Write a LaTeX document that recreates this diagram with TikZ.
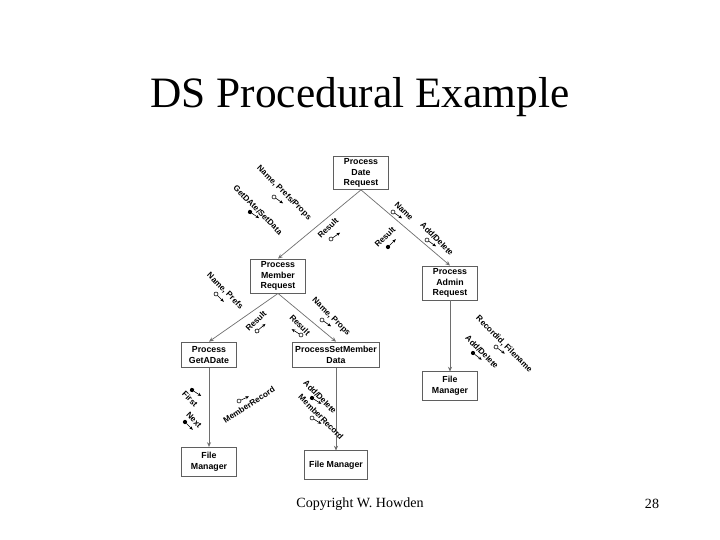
\documentclass[tikz,border=0pt]{standalone}
\usepackage{fontspec}
\setmainfont{Liberation Serif}
\setsansfont{Liberation Sans}
\usepackage{xcolor}
\usepackage{tikz}
\usetikzlibrary{arrows.meta, positioning}
\definecolor{boxgray}{RGB}{95,95,95}
\definecolor{linegray}{RGB}{110,110,110}
\tikzset{
  module/.style={rectangle, draw=boxgray, fill=white, line width=0.8pt,
    align=center, inner sep=0pt, minimum width=47pt, minimum height=29pt,
    font=\sffamily\bfseries\fontsize{7.5}{9}\selectfont},
  call/.style={-{Stealth[length=4pt, width=3.5pt]}, color=linegray, line width=0.6pt},
  cpllabel/.style={font=\sffamily\bfseries\fontsize{7}{8}\selectfont, inner sep=0pt},
  cplarrow/.style={-{Stealth[length=3pt, width=2.6pt]}, line width=0.5pt, color=black},
  datacpl/.pic={
    \draw[cplarrow] (1.7pt,0) -- (11,0);
    \draw[line width=0.5pt, fill=white] (0,0) circle[radius=1.7pt];
  },
  ctrlcpl/.pic={
    \draw[cplarrow] (1.7pt,0) -- (11,0);
    \fill (0,0) circle[radius=1.8pt];
  }
}

\begin{document}
\begin{tikzpicture}[x=0.03cm, y=-0.03cm]
  \useasboundingbox (0,0) rectangle (720,540);

  % Title and footer
  \node[font=\fontsize{37}{40}\selectfont] (title) at (360,97) {DS Procedural Example};
  \node[font=\fontsize{12}{14}\selectfont] (copy) at (360,504) {Copyright W. Howden};
  \node[font=\fontsize{12}{14}\selectfont] (page) at (652,504) {28};

  % Modules
  \node[module, minimum height=28pt] (date) at (361,173) {Process\\Date\\Request};
  \node[module] (member) at (278,276) {Process\\Member\\Request};
  \node[module] (admin) at (450,283) {Process\\Admin\\Request};
  \node[module, minimum height=22pt] (getdate) at (209,355) {Process\\GetADate};
  \node[module, minimum width=75pt, minimum height=22pt] (setmember) at (336,355) {ProcessSetMember\\Data};
  \node[module, minimum height=25pt] (fmleft) at (209,462) {File\\Manager};
  \node[module, minimum width=53pt, minimum height=24pt] (fmmid) at (336,465) {File Manager};
  \node[module, minimum height=24pt] (fmright) at (450,386) {File\\Manager};

  % Calls
  \draw[call] (date.south) -- (member.north);
  \draw[call] (date.south) -- (admin.north);
  \draw[call] (member.south) -- (getdate.north);
  \draw[call] (member.south) -- (setmember.north);
  \draw[call] (getdate.south) -- (fmleft.north);
  \draw[call] (setmember.south) -- (fmmid.north);
  \draw[call] (admin.south) -- (fmright.north);

  % Couples: Date -> Member
  \node[cpllabel, rotate=-45] (lnpp) at (284,193) {Name, Prefs/Props};
  \pic[rotate=-35] at (274,197) {datacpl};
  \node[cpllabel, rotate=-45] (lgsd) at (258,210) {GetDAte/SetData};
  \pic[rotate=-34] at (250,212) {ctrlcpl};
  \node[cpllabel, rotate=45] (lres1) at (328,228) {Result};
  \pic[rotate=35] at (331,239) {datacpl};

  % Couples: Date -> Admin
  \node[cpllabel, rotate=-45] (lname) at (404,211) {Name};
  \pic[rotate=-35] at (393,212) {datacpl};
  \node[cpllabel, rotate=-45] (ladd1) at (437,239) {Add/Delete};
  \pic[rotate=-35] at (427,240) {datacpl};
  \node[cpllabel, rotate=45] (lres2) at (385,237) {Result};
  \pic[rotate=45] at (388,247) {ctrlcpl};

  % Couples: Member -> GetADate
  \node[cpllabel, rotate=-45] (lnp) at (225,291) {Name, Prefs};
  \pic[rotate=-45] at (216,294) {datacpl};
  \node[cpllabel, rotate=45] (lres3) at (256,321) {Result};
  \pic[rotate=40] at (257,331) {datacpl};

  % Couples: Member -> SetMember
  \node[cpllabel, rotate=-45] (lres4) at (300,325) {Result};
  \pic[rotate=148] at (301,335) {datacpl};
  \node[cpllabel, rotate=-45] (lnprops) at (331,317) {Name, Props};
  \pic[rotate=-35] at (322,320) {datacpl};

  % Couples: GetADate -> File Manager
  \node[cpllabel, rotate=-45] (lfirst) at (190,399) {First};
  \pic[rotate=-33] at (192,390) {ctrlcpl};
  \node[cpllabel, rotate=-45] (lnext) at (194,420) {Next};
  \pic[rotate=-45] at (185,422) {ctrlcpl};
  \node[cpllabel, rotate=33] (lmr1) at (249,405) {MemberRecord};
  \pic[rotate=25] at (239,401) {datacpl};

  % Couples: SetMember -> File Manager
  \node[cpllabel, rotate=-45] (ladd2) at (320,397) {Add/Delete};
  \pic[rotate=-32] at (312,398) {ctrlcpl};
  \node[cpllabel, rotate=-45] (lmr2) at (321,417) {MemberRecord};
  \pic[rotate=-32] at (312,418) {datacpl};

  % Couples: Admin -> File Manager
  \node[cpllabel, rotate=-45] (lrecf) at (504,344) {Recordid, Filename};
  \pic[rotate=-37] at (496,347) {datacpl};
  \node[cpllabel, rotate=-45] (ladd3) at (482,352) {Add/Delete};
  \pic[rotate=-38] at (473,353) {ctrlcpl};
\end{tikzpicture}
\end{document}
